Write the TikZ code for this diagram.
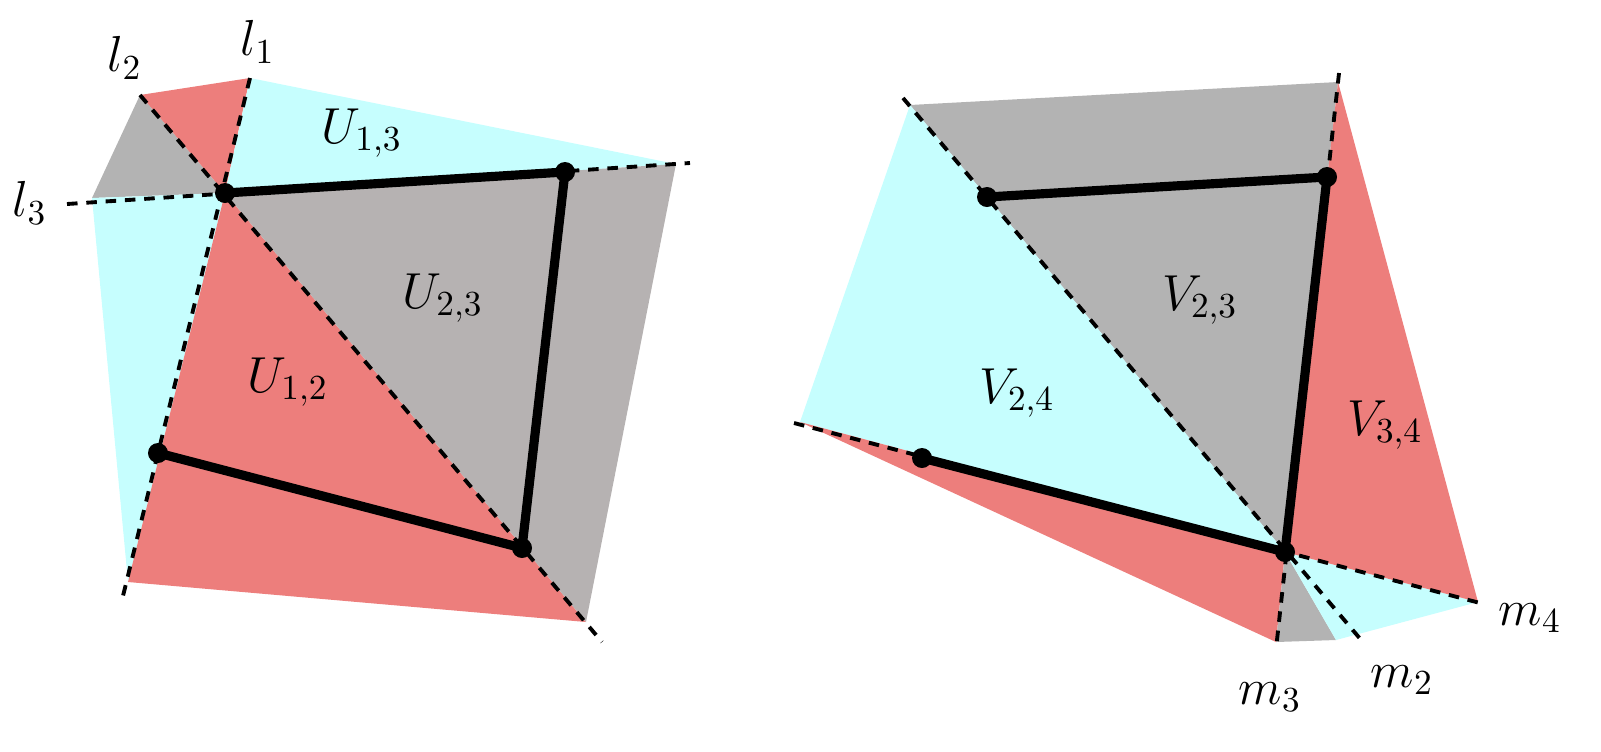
\documentclass[tikz,border=0pt]{standalone}
\begin{document}
\begin{tikzpicture}[x=0.01cm,y=-0.01cm,
  dl/.style={dashed,line width=1.1pt,dash pattern=on 3pt off 2.5pt},
  th/.style={line width=2.6pt},
  dot/.style={circle,fill=black,inner sep=0pt,minimum size=0.2cm},
  lab/.style={font=\Large}]
\definecolor{rd}{HTML}{ED7E7C}\definecolor{cy}{HTML}{C6FEFE}\definecolor{gr}{HTML}{B3B3B3}\definecolor{gr2}{HTML}{B6B2B2}
\useasboundingbox (0,0) rectangle (1601,751);
% left
\coordinate (P) at (225,193);
\fill[rd] (140,95)--(250,78)--(P)--cycle;
\fill[cy] (250,78)--(676,164)--(P)--cycle;
\fill[gr] (140,95)--(92,198)--(P)--cycle;
\fill[cy] (92,198)--(P)--(128,582)--cycle;
\fill[rd] (P)--(128,582)--(586,622)--cycle;
\fill[gr2] (P)--(676,164)--(586,622)--cycle;
\draw[dl] (250,78)--(122,600);
\draw[dl] (140,95)--(602,642);
\draw[dl] (67,204)--(690,163);
\node[dot] (a1) at (P) {};
\node[dot] (a2) at (565,172) {};
\node[dot] (a3) at (522,548) {};
\node[dot] (a4) at (158,453) {};
\draw[th] (a1.center)--(a2.center)--(a3.center)--(a4.center);
\node[lab] (l1) at (258,42) {$l_1$};
\node[lab] (l2) at (125,58) {$l_2$};
\node[lab] (l3) at (30,203) {$l_3$};
\node[lab] (u13) at (362,133) {$U_{1,3}$};
\node[lab] (u23) at (443,298) {$U_{2,3}$};
\node[lab] (u12) at (288,382) {$U_{1,2}$};
% right
\coordinate (Q) at (1285,552);
\fill[gr] (910,105)--(1338,82)--(Q)--cycle;
\fill[cy] (910,105)--(800,422)--(Q)--cycle;
\fill[rd] (800,422)--(1276,642)--(Q)--cycle;
\fill[gr] (1276,642)--(1336,640)--(Q)--cycle;
\fill[cy] (1336,640)--(1478,602)--(Q)--cycle;
\fill[rd] (1338,82)--(1478,602)--(Q)--cycle;
\draw[dl] (903,98)--(1362,641);
\draw[dl] (1339,73)--(1276,649);
\draw[dl] (794,423)--(1480,603);
\node[dot] (b1) at (987,197) {};
\node[dot] (b2) at (1327,177) {};
\node[dot] (b3) at (Q) {};
\node[dot] (b4) at (922,458) {};
\draw[th] (b1.center)--(b2.center)--(b3.center)--(b4.center);
\node[lab] (m2) at (1402,680) {$m_2$};
\node[lab] (m3) at (1270,697) {$m_3$};
\node[lab] (m4) at (1530,618) {$m_4$};
\node[lab] (v23) at (1200,300) {$V_{2,3}$};
\node[lab] (v24) at (1017,393) {$V_{2,4}$};
\node[lab] (v34) at (1385,425) {$V_{3,4}$};
\end{tikzpicture}
\end{document}
